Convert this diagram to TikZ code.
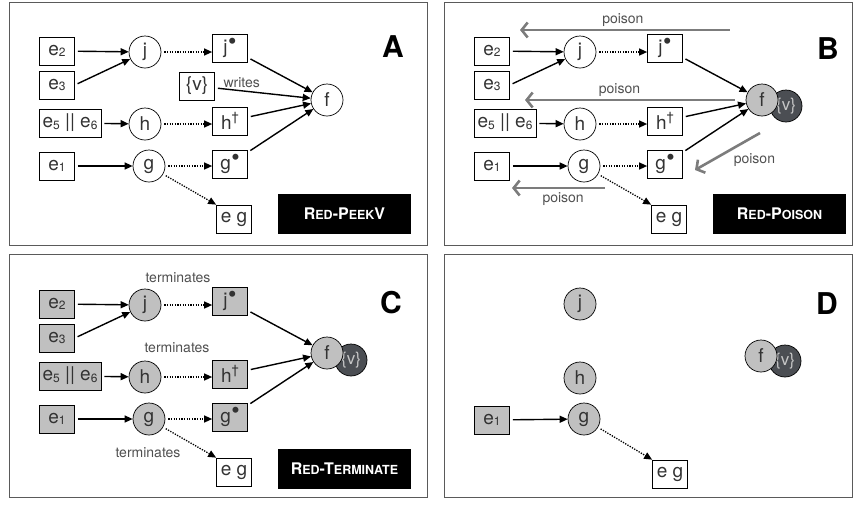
\documentclass[tikz,border=0pt]{standalone}
\usepackage{fontspec}
\setmainfont{TeX Gyre Heros}
\usetikzlibrary{arrows.meta,positioning}

\definecolor{nodegray}{HTML}{C0C0C0}
\definecolor{vdark}{HTML}{4B4E53}
\definecolor{framegray}{HTML}{5A5A5A}
\definecolor{poisongray}{HTML}{7C7C7C}
\definecolor{labelgray}{HTML}{505050}

\newcommand\done{\kern.5pt\raisebox{.2em}{\fontsize{24}{24}\selectfont\textbullet}}
\newcommand\dead{\raisebox{.4em}{\fontsize{13}{13}\selectfont\textdagger}}
\newcommand\ix[1]{\raisebox{-.06em}{\fontsize{12}{12}\selectfont #1}}
\newcommand\smc[1]{{\fontsize{12.5}{13}\selectfont #1}}

\tikzset{
  evt/.style={draw, line width=0.7pt, minimum width=35pt, minimum height=28pt,
    inner sep=1pt, text=black!80, font=\fontsize{19}{20}\selectfont},
  proc/.style={circle, draw, line width=0.7pt, minimum size=32pt, inner sep=0pt,
    text=black!80, font=\fontsize{19}{20}\selectfont},
  grey/.style={fill=nodegray},
  vball/.style={circle, draw, line width=0.7pt, fill=vdark, minimum size=32pt,
    inner sep=0pt, text=nodegray!90, font=\fontsize{17}{18}\selectfont},
  flow/.style={-{Triangle[length=8pt,width=7pt]}, line width=1.4pt, shorten <=3pt},
  spawn/.style={flow, line width=1.3pt, dash pattern=on 1.3pt off 1.3pt},
  poison/.style={{Straight Barb[length=6pt,width=15pt]}-, line width=2.6pt, poisongray},
  note/.style={text=labelgray, inner sep=1pt, font=\fontsize{14}{15}\selectfont},
  panel/.style={draw=framegray, line width=1pt},
  tag/.style={fill=black, text=white, minimum width=133pt, minimum height=40pt,
    font=\bfseries\fontsize{16}{16}\selectfont},
  letter/.style={font=\bfseries\fontsize{30}{30}\selectfont},
}

% the graph shared by panels A, B and C
\newcommand\drawnet[3]{%
  \node[evt,#2] (#1e2)  at (57,51)  {e\ix{2}};
  \node[evt,#2] (#1e3)  at (57,85)  {e\ix{3}};
  \node[evt,#2,minimum width=62pt] (#1e56) at (70,123) {e\ix{5} || e\ix{6}};
  \node[evt,#2] (#1e1)  at (57,166) {e\ix{1}};
  \node[proc,#2] (#1j)  at (145,52)  {j};
  \node[proc,#2] (#1h)  at (145,124) {h};
  \node[proc,#2] (#1g)  at (149,166) {g};
  \node[evt,#2] (#1jd)  at (230,48)  {j\done};
  \node[evt,#2] (#1hd)  at (230,121) {h\dead};
  \node[evt,#2] (#1gd)  at (230,164) {g\done};
  \node[evt]    (#1eg)  at (234,219) {e g};
  \node[proc,#3] (#1f)  at (327,100) {f};
  \draw[flow]  (#1e2) -- (#1j);
  \draw[flow]  (#1e3.east) -- (#1j);
  \draw[flow]  (#1e56) -- (#1h);
  \draw[flow]  (#1e1) -- (#1g);
  \draw[spawn] (#1j) -- (#1j -| #1jd.west);
  \draw[spawn] (#1h) -- (#1h -| #1hd.west);
  \draw[spawn] (#1g) -- (#1g -| #1gd.west);
  \draw[spawn] (#1g) -- (#1eg.north west);
  \draw[flow]  (#1jd) -- (#1f);
  \draw[flow]  (#1hd) -- (#1f);
  \draw[flow]  (#1gd) -- (#1f);
}

\begin{document}
\begin{tikzpicture}[x=1pt,y=-1pt]
  \useasboundingbox (0,0) rectangle (854,504);
  \draw[panel] (9,2)    rectangle (427,245);
  \draw[panel] (444,2)  rectangle (852,245);
  \draw[panel] (9,254)  rectangle (427,497);
  \draw[panel] (444,254) rectangle (852,497);

  % A
  \begin{scope}
    \drawnet{a}{}{}
    \node[evt] (av) at (197,86) {\{v\}};
    \draw[flow] (av) -- node[note, above=1pt, pos=0.28] {writes} (af);
    \node[letter] (alabel) at (393,47) {A};
    \node[tag] (atag) at (344.5,214) {R\smc{ED}-P\smc{EEK}V};
  \end{scope}

  % B
  \begin{scope}[shift={(435,0)}]
    \node[vball] (bv) at (351,106) {\{v\}};
    \drawnet{b}{}{grey}
    \coordinate (bp1a) at (85,30);  \coordinate (bp1b) at (295,30);
    \coordinate (bp2a) at (90,100); \coordinate (bp2b) at (300,100);
    \coordinate (bp3a) at (77,188); \coordinate (bp3b) at (170,188);
    \coordinate (bp4a) at (260,170); \coordinate (bp4b) at (325,133);
    \draw[poison] (bp1a) -- node[note, above=1pt, pos=0.49] {poison} (bp1b);
    \draw[poison] (bp2a) -- node[note, above=1pt, pos=0.45] {poison} (bp2b);
    \draw[poison] (bp3a) -- node[note, below=2pt, pos=0.55] {poison} (bp3b);
    \draw[poison] (bp4a) -- node[note, anchor=north west, pos=0.5, xshift=4pt] {poison} (bp4b);
    \node[letter] (blabel) at (393,49) {B};
    \node[tag] (btag) at (344.5,214) {R\smc{ED}-P\smc{OISON}};
  \end{scope}

  % C
  \begin{scope}[shift={(0,253)}]
    \node[vball] (cv) at (351,107) {\{v\}};
    \drawnet{c}{grey}{grey}
    \node[note] (ct1) at (178,25)  {terminates};
    \node[note] (ct2) at (177,95)  {terminates};
    \node[note] (ct3) at (148,200) {terminates};
    \node[letter] (clabel) at (391,50) {C};
    \node[tag] (ctag) at (344.5,216) {R\smc{ED}-T\smc{ERMINATE}};
  \end{scope}

  % D
  \begin{scope}[shift={(435,253)}]
    \node[vball] (dv) at (350,108) {\{v\}};
    \node[proc,grey] (df) at (326,103) {f};
    \node[proc,grey] (dj) at (145,51)  {j};
    \node[proc,grey] (dh) at (145,125) {h};
    \node[proc,grey] (dg) at (149,166) {g};
    \node[evt,grey]  (de1) at (57,167) {e\ix{1}};
    \node[evt]       (deg) at (235,221) {e g};
    \draw[flow]  (de1) -- (dg);
    \draw[spawn] (dg) -- (deg.north west);
    \node[letter] (dlabel) at (392,51) {D};
  \end{scope}
\end{tikzpicture}
\end{document}
